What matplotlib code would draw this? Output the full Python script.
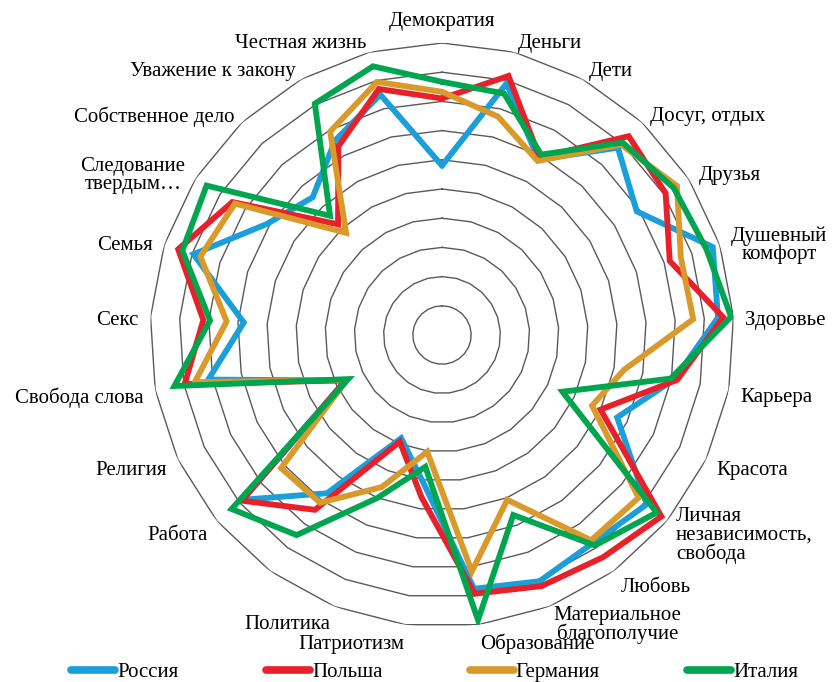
import numpy as np
import matplotlib
matplotlib.use('Agg')
import matplotlib.pyplot as plt
import matplotlib.transforms as mtransforms

plt.rcParams['font.family'] = ['Liberation Serif', 'DejaVu Serif']

# категории (одна подпись в оригинале не видна)
categories = ['Демократия', 'Деньги', 'Дети', 'Досуг, отдых', 'Друзья',
              'Душевный\nкомфорт', 'Здоровье', 'Карьера', 'Красота',
              'Личная\nнезависимость,\nсвобода', 'Любовь',
              'Материальное\nблагополучие', 'Образование', 'Патриотизм',
              'Политика', '', 'Работа', 'Религия', 'Свобода слова', 'Секс',
              'Семья', 'Следование\nтвердым…', 'Собственное дело',
              'Уважение к закону', 'Честная жизнь']

russia = [5.8, 8.9, 6.85, 8.8, 7.9, 9.75, 9.47, 8.1, 6.63, 9.1, 8.8, 9.07, 8.76,
          5.1, 3.8, 6.7, 8.85, 3.65, 8.15, 6.8, 8.95, 7.1, 6.47, 7.6, 8.5]
poland = [8.1, 9.16, 6.94, 9.34, 9.07, 8.2, 9.65, 8.2, 6.0, 9.75, 9.4, 9.25, 8.93,
          5.6, 3.93, 7.4, 8.9, 3.65, 8.97, 8.19, 9.5, 8.5, 5.2, 7.37, 8.7]
germany = [8.33, 7.72, 6.8, 8.95, 9.53, 8.6, 8.62, 6.35, 5.68, 8.74, 8.69, 6.07, 8.16,
           4.03, 5.6, 7.1, 7.15, 3.6, 8.62, 7.39, 8.7, 8.4, 4.8, 7.95, 8.95]
italy = [8.67, 8.54, 7.05, 9.04, 9.4, 9.52, 9.92, 7.97, 4.56, 9.54, 8.91, 6.63, 9.84,
         4.55, 6.0, 8.47, 9.35, 3.55, 9.33, 7.96, 9.35, 9.55, 5.6, 9.04, 9.5]

series_names = ['Россия', 'Польша', 'Германия', 'Италия']
colors = ['#1a9fdb', '#e8202a', '#d99a2b', '#00a550']

n = len(categories)
angles = np.linspace(0, 2 * np.pi, n, endpoint=False)
closed = np.append(angles, angles[0])

fig = plt.figure(figsize=(8.33, 6.82), dpi=100)
# центр ~ (442, 335) px, радиус ~ 292 px
cx, cy, rad = 442 / 833, 1 - 335 / 682, 292
ax = fig.add_axes([cx - rad / 833, cy - rad / 682, 2 * rad / 833, 2 * rad / 682],
                  projection='polar')
ax.set_theta_zero_location('N')
ax.set_theta_direction(-1)
ax.set_ylim(0, 10)
ax.grid(False)
ax.spines['polar'].set_visible(False)
ax.set_xticks([])
ax.set_yticks([])
ax.patch.set_alpha(0)

# многоугольная сетка
for k in range(1, 11):
    ax.plot(closed, [k] * (n + 1), color='#595959', lw=1.0, zorder=1)

for vals, name, c in zip([russia, poland, germany, italy], series_names, colors):
    v = np.append(vals, vals[0])
    ax.plot(closed, v, color=c, lw=4.2, label=name, solid_joinstyle='miter',
            solid_capstyle='round', zorder=3)

# подписи категорий
for a, lab in zip(angles, categories):
    s = np.sin(a)
    if s > 0.1:
        ha = 'left'
        dy = -(5 - 2.8 * np.cos(a))
    elif s < -0.1:
        ha = 'right'
        dy = -(5 - 2.8 * np.cos(a))
    else:
        ha = 'center'
        dy = 10
    ma = 'left' if lab.startswith('Личная') else 'center'
    tr = ax.transData + mtransforms.ScaledTranslation(0, dy / 100, fig.dpi_scale_trans)
    ax.text(a, 10.4, lab, ha=ha, va='center', fontsize=15, ma=ma,
            clip_on=False, linespacing=0.95, transform=tr)

leg = fig.legend(loc='center', bbox_to_anchor=(0.522, 1 - 672 / 682), ncol=4,
                 frameon=False, fontsize=15, handlelength=2.1, handletextpad=0.1,
                 columnspacing=4.2)
for line in leg.get_lines():
    line.set_linewidth(5.5)
    line.set_solid_capstyle('round')

plt.savefig('out.png', dpi=100, facecolor='white')
plt.close()
